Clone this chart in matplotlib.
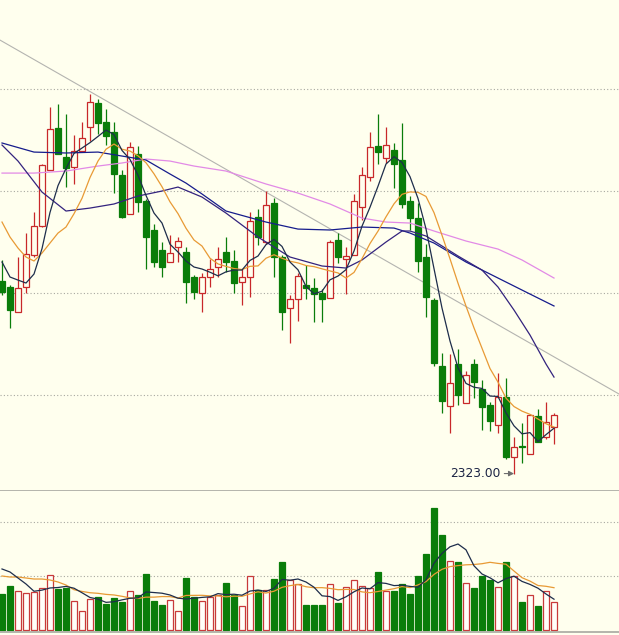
import numpy as np
import pandas as pd
import matplotlib
matplotlib.use("Agg")
import matplotlib.pyplot as plt
from matplotlib.patches import Rectangle

# ---------------- data (daily candles, oldest first) ----------------
opens = [2511.8, 2505.9, 2481.4, 2505.9, 2537.3, 2565.7, 2620.6, 2661.8, 2633.3, 2623.5,
         2639.2, 2662.7, 2686.3, 2667.6, 2657.8, 2615.7, 2577.5, 2636.3, 2590.2, 2561.8,
         2542.2, 2530.4, 2545.1, 2540.2, 2515.7, 2500.0, 2515.7, 2525.5, 2540.2, 2531.4,
         2510.8, 2515.7, 2574.5, 2550.0, 2588.2, 2535.3, 2485.3, 2494.1, 2507.8, 2504.9,
         2500.0, 2495.1, 2552.0, 2533.3, 2537.3, 2584.3, 2613.7, 2644.1, 2632.4, 2640.2,
         2630.4, 2590.2, 2573.5, 2535.3, 2493.1, 2428.4, 2389.2, 2430.4, 2392.2, 2430.4,
         2405.9, 2390.2, 2370.6, 2398.0, 2339.2, 2350.0, 2342.2, 2379.4, 2358.8, 2368.6]
highs = [2532.4, 2507.8, 2535.3, 2558.8, 2579.4, 2626.5, 2682.4, 2685.3, 2675.5, 2654.9,
         2667.6, 2695.1, 2690.2, 2680.4, 2667.6, 2620.6, 2648.0, 2644.1, 2592.2, 2567.6,
         2550.0, 2556.9, 2554.9, 2545.1, 2517.6, 2519.6, 2533.3, 2545.1, 2554.9, 2542.2,
         2523.5, 2579.4, 2582.4, 2600.0, 2593.1, 2537.3, 2498.0, 2519.6, 2527.5, 2514.7,
         2503.9, 2552.0, 2558.8, 2545.1, 2597.1, 2623.5, 2657.8, 2675.5, 2662.7, 2647.1,
         2666.7, 2595.1, 2588.2, 2548.0, 2495.1, 2441.2, 2440.2, 2445.1, 2423.5, 2435.3,
         2414.7, 2393.1, 2421.6, 2416.7, 2358.8, 2372.5, 2381.4, 2386.3, 2393.1, 2382.4]
lows = [2498.0, 2465.7, 2481.4, 2500.0, 2535.3, 2564.7, 2620.6, 2636.3, 2603.9, 2606.9,
        2639.2, 2649.0, 2655.9, 2645.1, 2598.0, 2573.5, 2577.5, 2579.4, 2523.5, 2525.5,
        2515.7, 2530.4, 2530.4, 2490.2, 2494.1, 2481.4, 2505.9, 2515.7, 2520.6, 2500.0,
        2488.2, 2496.1, 2547.1, 2548.0, 2515.7, 2463.7, 2451.0, 2472.5, 2494.1, 2471.6,
        2471.6, 2495.1, 2529.4, 2499.0, 2537.3, 2571.6, 2609.8, 2626.5, 2627.5, 2602.9,
        2583.3, 2561.8, 2520.6, 2476.5, 2428.4, 2382.4, 2362.7, 2390.2, 2392.2, 2397.1,
        2365.7, 2364.7, 2362.7, 2337.3, 2323.0, 2333.3, 2342.2, 2353.9, 2356.9, 2352.0]
closes = [2501.0, 2483.3, 2504.9, 2538.2, 2565.7, 2625.5, 2660.8, 2636.3, 2622.5, 2639.2,
          2652.0, 2687.3, 2666.7, 2653.9, 2616.7, 2574.5, 2643.1, 2589.2, 2554.9, 2530.4,
          2525.5, 2539.2, 2551.0, 2510.8, 2501.0, 2515.7, 2523.5, 2533.3, 2530.4, 2509.8,
          2515.7, 2570.6, 2554.9, 2586.3, 2535.3, 2481.4, 2494.1, 2516.7, 2504.9, 2499.0,
          2494.1, 2550.0, 2535.3, 2536.3, 2590.2, 2615.7, 2643.1, 2638.2, 2645.1, 2626.5,
          2587.3, 2573.5, 2531.4, 2496.1, 2431.4, 2394.1, 2411.8, 2400.0, 2419.6, 2412.7,
          2388.2, 2374.5, 2398.0, 2339.2, 2349.0, 2349.0, 2380.4, 2353.9, 2373.5, 2380.4]
volumes = [667, 815, 722, 680, 704, 772, 1013, 765, 783, 537,
           352, 574, 611, 487, 593, 524, 722, 648, 1037, 537,
           463, 556, 352, 963, 611, 537, 611, 648, 870, 648,
           444, 994, 741, 741, 944, 1259, 926, 852, 463, 463,
           463, 852, 500, 796, 926, 815, 778, 1074, 722, 722,
           852, 667, 1000, 1407, 2259, 1759, 1278, 1259, 870, 778,
           1000, 926, 796, 1259, 1000, 519, 648, 444, 722, 519]

# moving-average values at the start of the window
ma5_head = [2530.4, 2515.7, 2512.7, 2509.8]
ma10_head = [2569.6, 2554.9, 2544.1, 2535.3, 2531.4, 2539.2, 2549.0, 2558.8, 2564.7]
vol_ma5_head = [1130, 1074, 963, 852]
vol_ma10_head = [1000, 981, 981, 963, 944, 944, 926, 889, 833]

# slower moving averages at these candle indices
ma20_idx = [0, 2, 5, 8, 11, 14, 17, 20, 22, 25, 28, 32, 36, 40, 43, 45, 48, 50, 51, 53, 57, 60, 62, 64, 66, 68, 69]
ma20_val = [2645.1, 2629.4, 2599.0, 2580.4, 2583.3, 2587.3, 2595.1, 2600.0, 2603.9, 2594.1, 2578.4,
            2554.9, 2535.3, 2526.5, 2524.5, 2532.4, 2550.0, 2560.8, 2560.8, 2555.9, 2536.3, 2522.5,
            2505.9, 2483.3, 2458.8, 2430.4, 2417.6]
ma30_idx = [0, 4, 8, 12, 15, 18, 21, 23, 25, 28, 33, 37, 41, 45, 49, 51, 54, 58, 62, 66, 69]
ma30_val = [2647.1, 2638.2, 2637.3, 2638.2, 2634.3, 2630.4, 2616.7, 2607.8, 2597.1, 2580.4, 2569.6,
            2562.7, 2561.8, 2564.7, 2563.7, 2558.8, 2549.0, 2530.4, 2514.7, 2499.0, 2487.3]
ma60_idx = [0, 4, 8, 12, 15, 18, 21, 24, 28, 33, 37, 41, 45, 48, 51, 54, 58, 62, 65, 69]
ma60_val = [2617.6, 2617.6, 2619.6, 2624.5, 2627.5, 2631.4, 2629.4, 2624.5, 2619.6, 2606.9, 2598.0,
            2587.3, 2573.5, 2569.6, 2568.6, 2560.8, 2551.0, 2543.1, 2532.4, 2514.7]

# drawn trend line (candle index, price)
trend_x = [-0.25, 77.125]
trend_y = [2748.0, 2401.0]

price_grid = [2400, 2500, 2600, 2700]
vol_grid = [1000, 2000]

# ---------------- styling ----------------
BG = "#FFFFEE"
RED = "#C8282A"
GREEN = "#0A7D0A"
C_MA5 = "#1E2D4B"
C_MA10 = "#E89A35"
C_MA20 = "#33237E"
C_MA30 = "#161C8C"
C_MA60 = "#E28AE6"
GRID = "#A8A8A0"

n = len(closes)
x = np.arange(n)
o = np.array(opens); h = np.array(highs); l = np.array(lows); c = np.array(closes)
v = np.array(volumes, dtype=float)


def with_head(series, window, head):
    s = pd.Series(series).rolling(window).mean().to_numpy()
    s[:len(head)] = head
    return s


ma5 = with_head(c, 5, ma5_head)
ma10 = with_head(c, 10, ma10_head)
vma5 = with_head(v, 5, vol_ma5_head)
vma10 = with_head(v, 10, vol_ma10_head)

W, H = 619, 635
fig = plt.figure(figsize=(W / 100, H / 100), dpi=100, facecolor=BG)
split = 491
top_px, bot_px, base_px = split, 632, 630
ax = fig.add_axes([0, (H - split) / H, 1, split / H], facecolor=BG)
axv = fig.add_axes([0, (H - bot_px) / H, 1, (bot_px - top_px) / H], facecolor=BG)

xmin, xmax = -0.25, 77.125
bw = 0.68

# price y mapping: gridlines 102 px per 100 points
ax.set_xlim(xmin, xmax)
ax.set_ylim(2305.9, 2787.3)
for g in price_grid:
    ax.axhline(g, color=GRID, lw=0.8, ls=(0, (1, 2)), zorder=0)

ax.plot(trend_x, trend_y, color="#B4B4B0", lw=0.8, zorder=1)

for i in range(n):
    up = c[i] >= o[i]
    col = RED if up else GREEN
    ax.vlines(x[i], l[i], h[i], color=col, lw=0.9, zorder=2)
    lo, hi = min(o[i], c[i]), max(o[i], c[i])
    if hi - lo < 0.8:
        hi = lo + 0.8
    if up:
        ax.add_patch(Rectangle((x[i] - bw / 2, lo), bw, hi - lo, facecolor=BG,
                               edgecolor=col, lw=0.9, zorder=3))
    else:
        ax.add_patch(Rectangle((x[i] - bw / 2, lo), bw, hi - lo, facecolor=col,
                               edgecolor=col, lw=0.9, zorder=3))

ax.plot(ma60_idx, ma60_val, color=C_MA60, lw=0.9, zorder=4)
ax.plot(ma30_idx, ma30_val, color=C_MA30, lw=0.9, zorder=4)
ax.plot(ma20_idx, ma20_val, color=C_MA20, lw=0.9, zorder=4)
ax.plot(x, ma10, color=C_MA10, lw=0.9, zorder=5)
ax.plot(x, ma5, color=C_MA5, lw=0.9, zorder=5)

imin = int(np.argmin(l))
ax.annotate(f"{l[imin]:.2f}", xy=(x[imin], l[imin]), xytext=(-10, 0),
            textcoords="offset points", ha="right", va="center",
            fontsize=8.8, color="#1C2444", family="DejaVu Sans",
            arrowprops=dict(arrowstyle="-|>,head_length=0.35,head_width=0.18",
                            color="#6E6E6E", lw=0.8, shrinkA=1, shrinkB=0))

ax.set_xticks([]); ax.set_yticks([])
for s in ["top", "left", "right"]:
    ax.spines[s].set_visible(False)
ax.spines["bottom"].set_color("#A8A8A0")
ax.spines["bottom"].set_linewidth(1.2)

# volume panel: baseline at pixel 630, 54 px per 1000
axv.set_xlim(xmin, xmax)
scale = 1000 / 54
axv.set_ylim(-(bot_px - base_px) * scale, (base_px - top_px) * scale)
for g in vol_grid:
    axv.axhline(g, color=GRID, lw=0.8, ls=(0, (1, 2)), zorder=0)
for i in range(n):
    up = c[i] >= o[i]
    if up:
        axv.add_patch(Rectangle((x[i] - bw / 2, 0), bw, v[i], facecolor="#FFFFFA",
                                edgecolor="#C83A3A", lw=0.9, zorder=2))
    else:
        axv.add_patch(Rectangle((x[i] - bw / 2, 0), bw, v[i], facecolor=GREEN,
                                edgecolor=GREEN, lw=0.9, zorder=2))
axv.plot(x, vma10, color=C_MA10, lw=0.9, zorder=4)
axv.plot(x, vma5, color=C_MA5, lw=0.9, zorder=4)
axv.set_xticks([]); axv.set_yticks([])
for s in ["top", "left", "right"]:
    axv.spines[s].set_visible(False)
axv.spines["bottom"].set_color("#A8A8A0")
axv.spines["bottom"].set_linewidth(1.2)

fig.savefig("out.png", dpi=100, facecolor=BG)
